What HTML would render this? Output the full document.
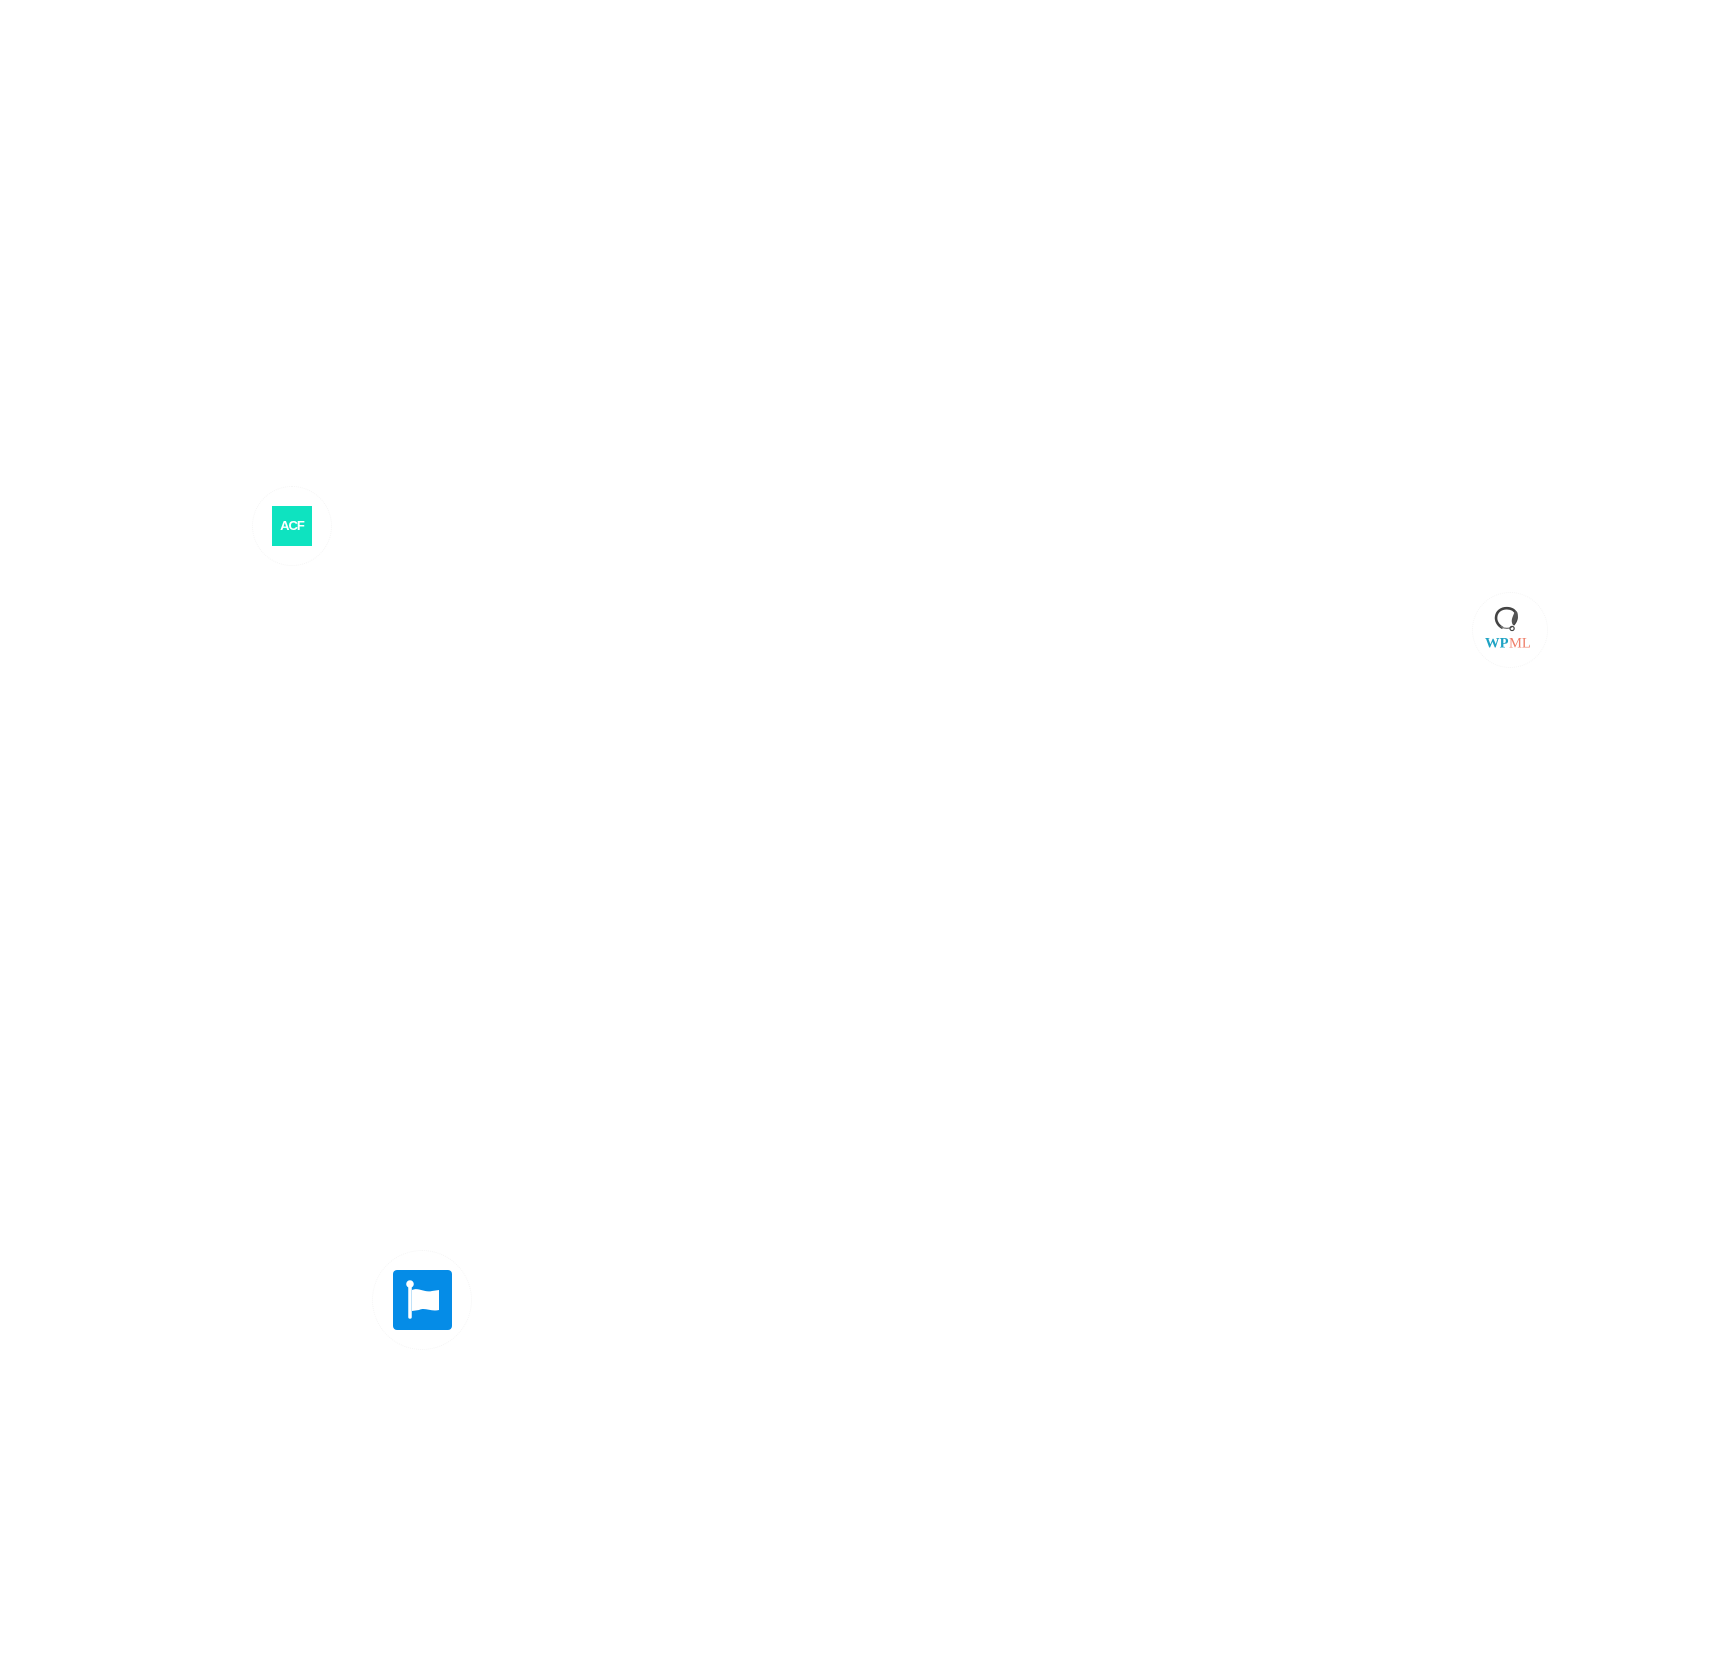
<!DOCTYPE html>
<html><head><meta charset="utf-8"><style>
html,body{margin:0;padding:0;background:#fff;width:1716px;height:1660px;overflow:hidden;position:relative;font-family:"Liberation Sans",sans-serif}
.c{position:absolute;border-radius:50%;border:1px dotted #f5f5f5;box-sizing:border-box}
</style></head><body>
<div class="c" style="left:252px;top:486px;width:80px;height:80px"></div>
<div style="position:absolute;left:272px;top:506px;width:40px;height:40px;background:#0ee3c0;color:#fff;font-weight:bold;font-size:13px;line-height:40px;text-align:center;letter-spacing:-1px">ACF</div>

<div class="c" style="left:1472px;top:592px;width:76px;height:76px"></div>
<svg style="position:absolute;left:1484px;top:604px" width="52" height="52" viewBox="0 0 50 50">
<path d="M18 23 C8 18 10 4 22 4 C32 4 34 14 28 20" fill="none" stroke="#444" stroke-width="2.5"/>
<path d="M28 20 C33 14 34 8 30 6 C28 12 25 16 28 20Z" fill="#555"/>
<path d="M16 21 C18 24 24 24 27 22" fill="none" stroke="#777" stroke-width="1.2"/>
<circle cx="27" cy="23.5" r="2" fill="none" stroke="#444" stroke-width="1.2"/>
<text x="1" y="42" font-family="Liberation Serif,serif" font-size="14" font-weight="bold" fill="#1fa3c4">WP</text>
<text x="24" y="42" font-family="Liberation Serif,serif" font-size="14" fill="#ef7f6a">ML</text>
</svg>

<div class="c" style="left:372px;top:1250px;width:100px;height:100px"></div>
<div style="position:absolute;left:393px;top:1270px;width:59px;height:60px;background:#058ce7;border-radius:4px"></div>
<svg style="position:absolute;left:393px;top:1270px" width="59" height="60" viewBox="0 0 59 60">
<line x1="17" y1="14" x2="17" y2="47" stroke="#fff" stroke-width="3.5" stroke-linecap="round"/>
<circle cx="17" cy="14" r="3.8" fill="#fff"/>
<path d="M19 20 C26 17 31 23 39 21 L46 20 L46 40 C38 42 32 37 26 40 L19 41Z" fill="#fff"/>
</svg>
</body></html>
